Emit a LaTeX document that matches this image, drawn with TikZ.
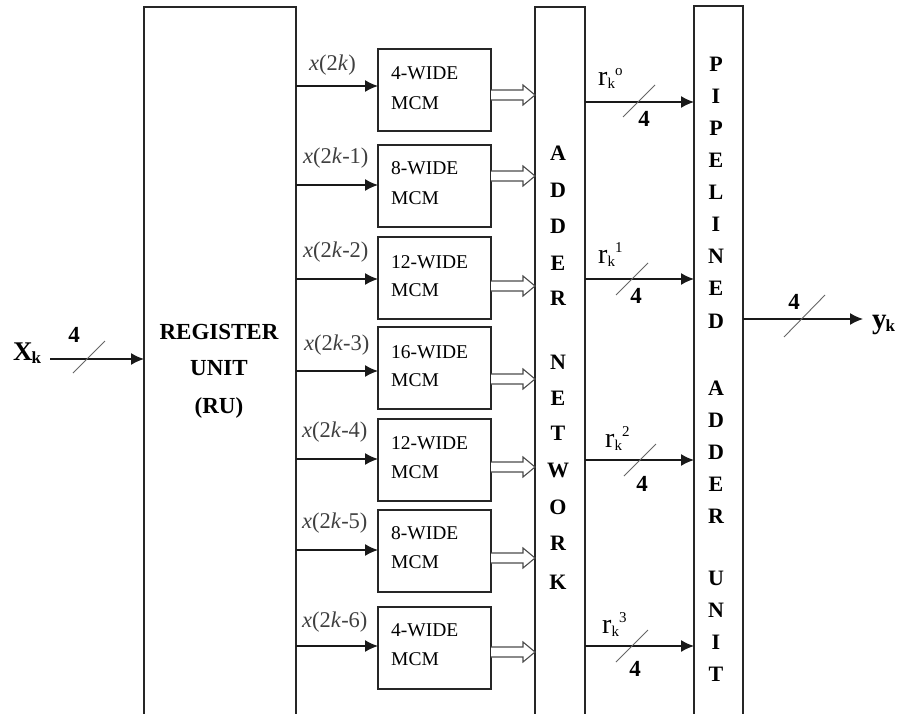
\documentclass[tikz,border=0pt]{standalone}
\usepackage{fontspec}
\setmainfont{Liberation Serif}
\usetikzlibrary{arrows.meta,calc}
\newcommand\hollowarr[2]{\draw[hol] (#1.east |- 0,#2) ++(0,-5) -- ++(32,0) -- ++(0,-5) -- ++(12,10) -- ++(-12,10) -- ++(0,-5) -- ++(-32,0);}
\begin{document}
\begin{tikzpicture}[x=1pt,y=-1pt,
  box/.style={draw=black!85, line width=1.3pt, inner sep=0pt, outer sep=0pt, anchor=north west},
  arr/.style={draw=black!90, line width=1.4pt, -{Latex[length=13pt,width=12pt]}},
  slashmark/.style={draw=black!60, line width=0.9pt},
  hol/.style={draw=black!70, line width=1.1pt, fill=white},
  big/.style={font=\fontsize{23}{26}\selectfont\bfseries, inner sep=0pt},
  vlet/.style={font=\fontsize{22}{22}\selectfont\bfseries, inner sep=0pt},
  mcmt/.style={font=\fontsize{19.5}{21}\selectfont, anchor=west, inner sep=0pt},
  xl/.style={font=\fontsize{22.5}{24}\selectfont, text=black!75, anchor=west, inner sep=0pt},
  four/.style={font=\fontsize{23}{23}\selectfont\bfseries, inner sep=0pt},
  rl/.style={font=\fontsize{28}{28}\selectfont, anchor=base west, inner sep=0pt}]
\useasboundingbox (0,0) rectangle (899,713);
\clip (0,0) rectangle (899,713);
\fill[white] (0,0) rectangle (899,713);

% tall boxes
\node[box, minimum width=152pt, minimum height=760pt] (ru) at (144,7) {};
\node[box, minimum width=50pt, minimum height=760pt] (adder) at (535,7) {};
\node[box, minimum width=49pt, minimum height=760pt] (pipe) at (694,6) {};

% register unit text
\node[big] (ru1) at (219,332) {REGISTER};
\node[big] (ru2) at (219,368) {UNIT};
\node[big] (ru3) at (219,408) {(RU)};

% MCM boxes
\foreach \top/\i in {49/1,145/2,237/3,327/4,419/5,510/6,607/7}
  \node[box, minimum width=113pt, minimum height=82pt] (m\i) at (378,\top) {};

% MCM texts
\foreach \t/\ya/\yb/\i in {4-WIDE/73/103/1, 8-WIDE/168/198/2, 12-WIDE/262/290/3, 16-WIDE/352/380/4, 12-WIDE/443/472/5, 8-WIDE/533/562/6, 4-WIDE/630/659/7}{
  \node[mcmt] (mt\i a) at (391,\ya) {\t};
  \node[mcmt] (mt\i b) at (391,\yb) {MCM};
}

% input arrows to MCMs
\foreach \yy/\i in {86/1, 185/2, 279/3, 371/4, 459/5, 550/6, 646/7}
  \draw[arr] (ru.east |- 0,\yy) -- (m\i.west |- 0,\yy);
\node[xl] (l1) at (309,65) {\textit{x}(2\textit{k})};
\node[xl] (l2) at (303,158) {\textit{x}(2\textit{k}-1)};
\node[xl] (l3) at (303,252) {\textit{x}(2\textit{k}-2)};
\node[xl] (l4) at (304,345) {\textit{x}(2\textit{k}-3)};
\node[xl] (l5) at (302,432) {\textit{x}(2\textit{k}-4)};
\node[xl] (l6) at (302,523) {\textit{x}(2\textit{k}-5)};
\node[xl] (l7) at (302,622) {\textit{x}(2\textit{k}-6)};

% hollow arrows
\hollowarr{m1}{95}
\hollowarr{m2}{176}
\hollowarr{m3}{286}
\hollowarr{m4}{379}
\hollowarr{m5}{467}
\hollowarr{m6}{558}
\hollowarr{m7}{652}

% adder network letters
\foreach \l/\yy [count=\i] in {A/153,D/190,D/226,E/263,R/298,N/362,E/398,T/433,W/470,O/507,R/543,K/582}
  \node[vlet] (ad\i) at (558,\yy) {\l};

% pipelined adder unit letters
\foreach \l/\yy [count=\i] in {P/64,I/96,P/128,E/160,L/192,I/224,N/256,E/288,D/321,A/388,D/420,D/452,E/484,R/516,U/578,N/610,I/642,T/674}
  \node[vlet] (pa\i) at (716,\yy) {\l};

% r arrows
\draw[arr] (adder.east |- 0,102) -- (pipe.west |- 0,102);
\draw[arr] (adder.east |- 0,279) -- (pipe.west |- 0,279);
\draw[arr] (adder.east |- 0,460) -- (pipe.west |- 0,460);
\draw[arr] (adder.east |- 0,646) -- (pipe.west |- 0,646);
\draw[slashmark] (623,117) -- (655,85);
\draw[slashmark] (616,295) -- (648,263);
\draw[slashmark] (624,476) -- (656,444);
\draw[slashmark] (616,662) -- (648,630);
\node[four] (f0) at (644,119) {4};
\node[four] (f1) at (636,296) {4};
\node[four] (f2) at (642,484) {4};
\node[four] (f3) at (635,669) {4};
\node[rl] (r0) at (598,85) {r{\fontsize{15}{15}\selectfont\raisebox{-3pt}{k}\raisebox{10pt}{o}}};
\node[rl] (r1) at (598,263) {r{\fontsize{15}{15}\selectfont\raisebox{-3pt}{k}\raisebox{11pt}{1}}};
\node[rl] (r2) at (605,447) {r{\fontsize{15}{15}\selectfont\raisebox{-3pt}{k}\raisebox{11pt}{2}}};
\node[rl] (r3) at (602,633) {r{\fontsize{15}{15}\selectfont\raisebox{-3pt}{k}\raisebox{11pt}{3}}};

% input
\node[anchor=base west, inner sep=0pt] (xk) at (13,360) {\fontsize{27}{27}\selectfont\bfseries X\kern-1pt\raisebox{-3pt}{\fontsize{17}{17}\selectfont k}};
\coordinate (xin) at (50,359);
\draw[arr] (xin) -- (ru.west |- xin);
\draw[slashmark] (73,373) -- (105,341);
\node[four] (fin) at (74,335) {4};

% output
\coordinate (yout) at (863,319);
\draw[arr] (pipe.east |- yout) -- (yout);
\draw[slashmark] (784,337) -- (825,295);
\node[four] (fout) at (794,302) {4};
\node[anchor=base west, inner sep=0pt] (yk) at (872,328) {\fontsize{29}{29}\selectfont\bfseries y\kern-1pt\raisebox{-3pt}{\fontsize{17}{17}\selectfont k}};
\end{tikzpicture}
\end{document}
